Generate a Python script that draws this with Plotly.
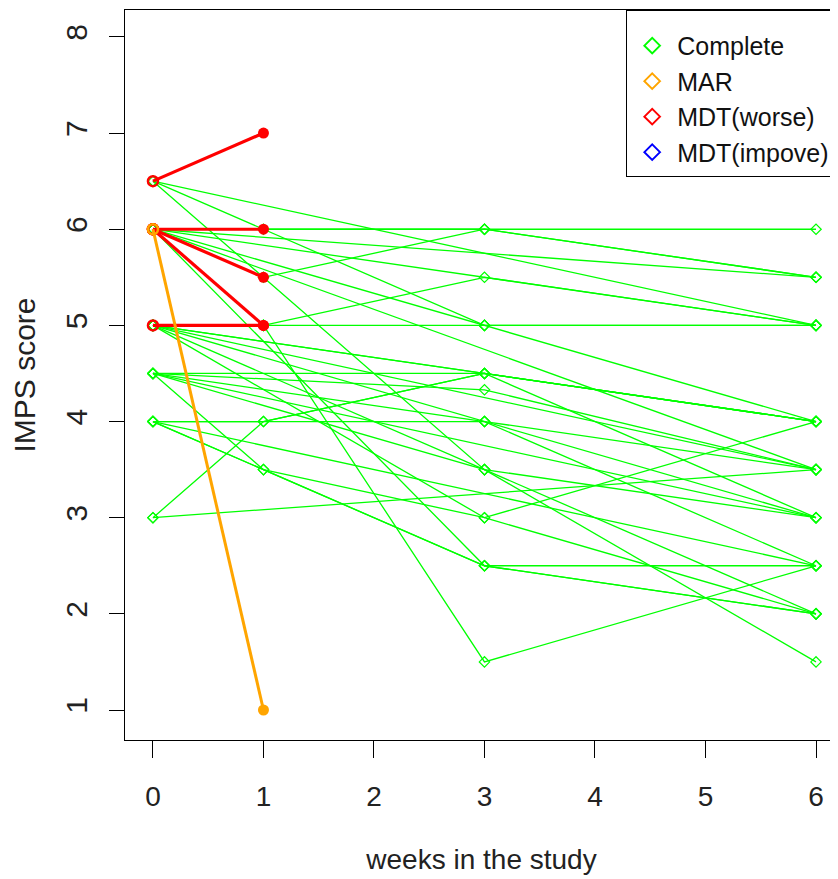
import plotly.graph_objects as go

weeks = [0, 1, 3, 6]

# Complete subjects: list of (week, score) observations
complete_subjects = [
    [(0, 6.5), (6, 5.0)],
    [(0, 6.5), (3, 3.5), (6, 3.0)],
    [(0, 6.0), (1, 6.0), (3, 6.0), (6, 6.0)],
    [(0, 6.0), (1, 5.5), (3, 6.0), (6, 5.5)],
    [(0, 6.0), (6, 5.5)],
    [(0, 6.0), (3, 6.0), (6, 5.5)],
    [(0, 6.0), (6, 5.0)],
    [(0, 6.0), (3, 5.0), (6, 4.0)],
    [(0, 6.0), (6, 3.5)],
    [(0, 6.0), (3, 2.5), (6, 2.0)],
    [(0, 6.5), (3, 5.0), (6, 5.0)],
    [(0, 5.0), (1, 5.0), (3, 5.5), (6, 5.0)],
    [(0, 5.0), (1, 5.0), (3, 5.0), (6, 5.0)],
    [(0, 5.0), (1, 5.0), (3, 1.5), (6, 2.5)],
    [(0, 5.0), (6, 4.0)],
    [(0, 5.0), (3, 4.5), (6, 4.0)],
    [(0, 5.0), (3, 4.0), (6, 3.0)],
    [(0, 5.0), (6, 3.5)],
    [(0, 5.0), (3, 3.0), (6, 2.0)],
    [(0, 5.0), (3, 3.5), (6, 2.0)],
    [(0, 4.5), (3, 4.5), (6, 4.0)],
    [(0, 4.5), (3, 4.33), (6, 3.5)],
    [(0, 4.5), (3, 4.0), (6, 2.5)],
    [(0, 4.5), (6, 3.0)],
    [(0, 4.5), (3, 3.5), (6, 1.5)],
    [(0, 4.5), (1, 3.5), (3, 2.5), (6, 2.5)],
    [(0, 4.0), (1, 3.5), (3, 3.0), (6, 4.0)],
    [(0, 4.0), (1, 4.0), (3, 4.5), (6, 3.0)],
    [(0, 4.0), (3, 4.0), (6, 3.5)],
    [(0, 4.0), (6, 2.5)],
    [(0, 4.0), (3, 2.5), (6, 2.0)],
    [(0, 3.0), (1, 4.0), (3, 4.5), (6, 4.0)],
    [(0, 3.0), (6, 3.5)],
]

mar_subjects = [
    [(0, 6.0), (1, 1.0)],
]

mdt_worse_subjects = [
    [(0, 6.5), (1, 7.0)],
    [(0, 6.0), (1, 6.0)],
    [(0, 6.0), (1, 5.5)],
    [(0, 6.0), (1, 5.0)],
    [(0, 5.0), (1, 5.0)],
]

legend_labels = ["Complete", "MAR", "MDT(worse)", "MDT(impove)"]
legend_colors = ["#00FF00", "#FFA500", "#FF0000", "#0000FF"]

x_ticks = [0, 1, 2, 3, 4, 5, 6]
y_ticks = [1, 2, 3, 4, 5, 6, 7, 8]


def flatten(subjects):
    xs, ys = [], []
    for s in subjects:
        for w, v in s:
            xs.append(w)
            ys.append(v)
        xs.append(None)
        ys.append(None)
    return xs, ys


fig = go.Figure()

# Complete
gx, gy = flatten(complete_subjects)
fig.add_trace(go.Scatter(
    x=gx, y=gy, mode="lines+markers", showlegend=False,
    line=dict(color="#00FF00", width=1.3),
    marker=dict(symbol="diamond-open", size=8, color="#00FF00", line=dict(width=1.2)),
))

# MDT(worse)
rx, ry = flatten(mdt_worse_subjects)
fig.add_trace(go.Scatter(
    x=rx, y=ry, mode="lines", showlegend=False,
    line=dict(color="#FF0000", width=3.2),
))
fig.add_trace(go.Scatter(
    x=[s[0][0] for s in mdt_worse_subjects], y=[s[0][1] for s in mdt_worse_subjects],
    mode="markers", showlegend=False,
    marker=dict(symbol="circle-open", size=10, color="#FF0000", line=dict(width=2.5)),
))
fig.add_trace(go.Scatter(
    x=[s[-1][0] for s in mdt_worse_subjects], y=[s[-1][1] for s in mdt_worse_subjects],
    mode="markers", showlegend=False,
    marker=dict(symbol="circle", size=11, color="#FF0000"),
))

# MAR
ox, oy = flatten(mar_subjects)
fig.add_trace(go.Scatter(
    x=ox, y=oy, mode="lines", showlegend=False,
    line=dict(color="#FFA500", width=3),
))
fig.add_trace(go.Scatter(
    x=[s[0][0] for s in mar_subjects], y=[s[0][1] for s in mar_subjects],
    mode="markers", showlegend=False,
    marker=dict(symbol="circle-open", size=10, color="#FFA500", line=dict(width=2.5)),
))
fig.add_trace(go.Scatter(
    x=[s[-1][0] for s in mar_subjects], y=[s[-1][1] for s in mar_subjects],
    mode="markers", showlegend=False,
    marker=dict(symbol="circle", size=11, color="#FFA500"),
))

# legend entries
for lab, col in zip(legend_labels, legend_colors):
    fig.add_trace(go.Scatter(
        x=[None], y=[None], mode="markers", name=lab,
        marker=dict(symbol="diamond-open", size=7, color=col, line=dict(width=1.3)),
    ))

font_family = "Liberation Sans, Arial, sans-serif"

fig.update_layout(
    width=838, height=879,
    margin=dict(l=117, r=8, t=2, b=147, autoexpand=False),
    paper_bgcolor="white", plot_bgcolor="white",
    font=dict(family=font_family, size=28, color="#222222"),
    showlegend=True,
    legend=dict(
        x=(626 - 8 - 117) / 713, y=1, xanchor="left", yanchor="top",
        bgcolor="white", bordercolor="black", borderwidth=1.2,
        font=dict(family=font_family, size=25, color="#111111"),
        itemsizing="constant", tracegroupgap=0, itemwidth=40,
        title=dict(text=" ", font=dict(size=9)),
    ),
    xaxis=dict(
        range=[-0.253, 6.199], tickvals=x_ticks, ticktext=[str(t) for t in x_ticks],
        showgrid=False, zeroline=False, automargin=False,
        showline=True, mirror=True, linecolor="black", linewidth=1.2,
        ticks="outside", ticklen=17, tickcolor="black", tickwidth=1.2,
        ticklabelstandoff=14, tickfont=dict(size=28, color="#222222"),
        title=dict(text="weeks in the study", standoff=38,
                   font=dict(family=font_family, size=28, color="#222222")),
    ),
    yaxis=dict(
        range=[0.688, 8.28], tickvals=y_ticks, ticktext=[str(t) for t in y_ticks],
        showgrid=False, zeroline=False, automargin=False,
        showline=True, mirror=True, linecolor="black", linewidth=1.2,
        ticks="outside", ticklen=15, tickcolor="black", tickwidth=1.2,
        tickangle=-90, ticklabelstandoff=10, tickfont=dict(size=30, color="#222222"),
        title=dict(text="IMPS score", standoff=28,
                   font=dict(family=font_family, size=30, color="#222222")),
    ),
)

fig.write_html("out.html")
